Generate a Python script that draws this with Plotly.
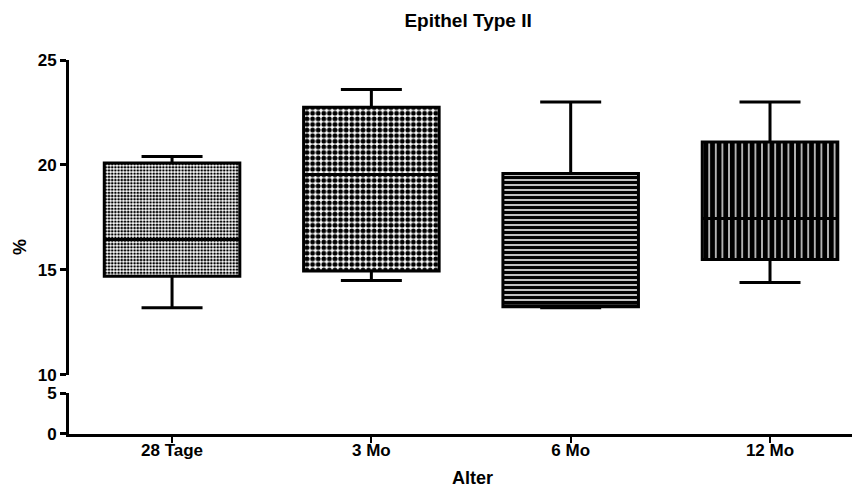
import plotly.graph_objects as go

categories = ["28 Tage", "3 Mo", "6 Mo", "12 Mo"]
x_pos = [0, 1, 2, 3]
minimum = [13.2, 14.5, 13.2, 14.4]
q1 = [14.7, 14.95, 13.25, 15.5]
median = [16.45, 19.55, 13.25, 17.45]
q3 = [20.1, 22.75, 19.6, 21.1]
maximum = [20.4, 23.6, 23.0, 23.0]

patterns = [".", ".", "-", "|"]
pat_size = [3.2, 5.6, 5, 6.6]
pat_solid = [0.5, 0.58, 0.7, 0.8]

FONT = "Liberation Sans, Arial, sans-serif"

fig = go.Figure()

# invisible trace so the lower (0-5) axis segment exists
fig.add_trace(go.Scatter(x=[None], y=[None], xaxis="x", yaxis="y",
                         mode="markers", hoverinfo="skip", showlegend=False))

fig.add_trace(go.Bar(
    x=x_pos, base=q1, y=[b - a for a, b in zip(q1, q3)],
    width=0.68, yaxis="y2",
    marker=dict(color="white", line=dict(width=0),
                pattern=dict(shape=patterns, size=pat_size, solidity=pat_solid,
                             fgcolor="black", bgcolor="white", fillmode="replace")),
    hoverinfo="skip", showlegend=False,
))

fig.add_trace(go.Box(
    x=x_pos, q1=q1, median=median, q3=q3, lowerfence=minimum, upperfence=maximum,
    width=0.68, whiskerwidth=0.45, yaxis="y2",
    fillcolor="rgba(0,0,0,0)", line=dict(color="black", width=3),
    boxpoints=False, showlegend=False,
))

axis_font = dict(family=FONT, size=17, color="black", weight="bold")

fig.update_layout(
    width=852, height=484,
    margin=dict(l=61, r=0, t=52, b=58),
    paper_bgcolor="white", plot_bgcolor="white",
    barmode="overlay", boxmode="overlay",
    title=dict(text="Epithel Type II", x=0.54, xanchor="center",
               y=1 - 12 / 484, yanchor="middle", yref="container",
               font=dict(family=FONT, size=19, color="black", weight="bold")),
    xaxis=dict(range=[-0.517, 3.4515], tickvals=x_pos, ticktext=categories,
               showline=True, linecolor="black", linewidth=3,
               ticks="outside", ticklen=6, tickwidth=2, tickcolor="black",
               showgrid=False, zeroline=False, anchor="y", automargin=False,
               tickfont=axis_font, ticklabelstandoff=-7),
    yaxis=dict(domain=[0, 0.1096], range=[0, 5], tickvals=[0, 5],
               showline=True, linecolor="black", linewidth=3, automargin=False,
               ticks="outside", ticklen=6, tickwidth=3, tickcolor="black",
               showgrid=False, zeroline=False, tickfont=axis_font),
    yaxis2=dict(domain=[0.1578, 1], range=[10, 25], tickvals=[10, 15, 20, 25],
                showline=True, linecolor="black", linewidth=3, automargin=False,
                ticks="outside", ticklen=6, tickwidth=3, tickcolor="black",
                showgrid=False, zeroline=False, anchor="x", tickfont=axis_font),
    showlegend=False,
)

fig.add_annotation(text="%", xref="paper", yref="paper", x=-0.062, y=0.5,
                   xanchor="center", yanchor="middle",
                   showarrow=False, textangle=-90,
                   font=dict(family=FONT, size=18, color="black", weight="bold"))
fig.add_annotation(text="Alter", xref="paper", yref="paper", x=0.51, y=-0.118,
                   xanchor="center", yanchor="middle", showarrow=False,
                   font=dict(family=FONT, size=18, color="black", weight="bold"))

fig.write_html("out.html")
